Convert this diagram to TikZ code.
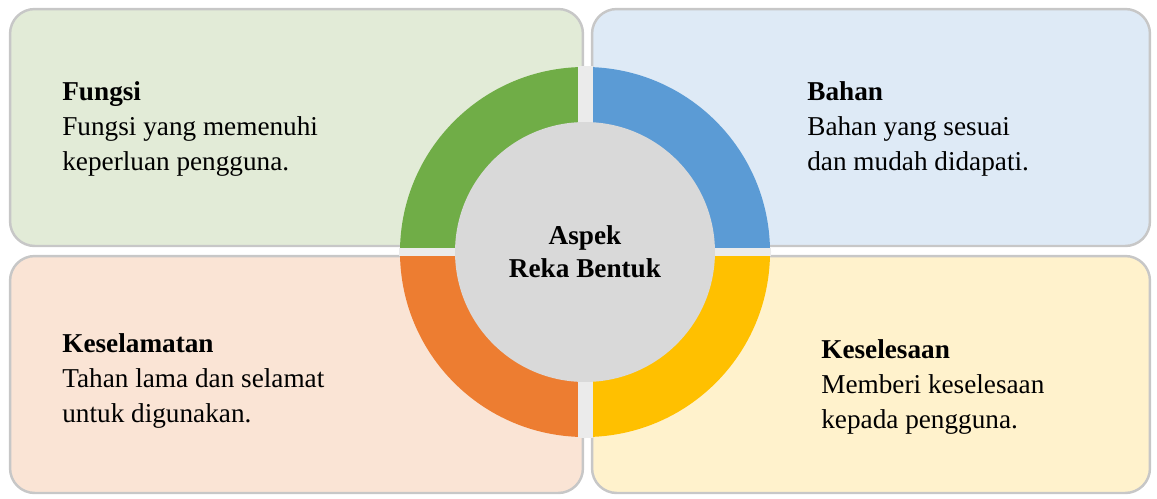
\documentclass[tikz,border=0pt]{standalone}
\usepackage{fontspec}
\setmainfont{Liberation Serif}
\usetikzlibrary{positioning, calc}
\definecolor{ringgreen}{RGB}{112, 173, 71}
\definecolor{ringblue}{RGB}{91, 155, 213}
\definecolor{ringorange}{RGB}{237, 125, 49}
\definecolor{ringyellow}{RGB}{255, 192, 0}
\definecolor{boxgreen}{RGB}{226, 235, 215}
\definecolor{boxblue}{RGB}{222, 234, 246}
\definecolor{boxorange}{RGB}{250, 228, 213}
\definecolor{boxyellow}{RGB}{255, 242, 204}
\definecolor{hubgray}{RGB}{217, 217, 217}
\tikzset{
  aspectbox/.style={draw=black!22, line width=1.4pt, rounded corners=14pt,
    minimum width=#1, minimum height=4.74cm, inner sep=0pt},
  aspecttext/.style={anchor=west, align=left, inner sep=0pt,
    font=\fontsize{15.5}{20}\selectfont},
}
\begin{document}
\begin{tikzpicture}[x=0.02cm, y=-0.02cm]
    \useasboundingbox (0,0) rectangle (1157,498);
    % four aspect boxes
    \node[aspectbox=11.46cm, fill=boxgreen]  (fungsi) at (296.5,127.5) {};
    \node[aspectbox=11.16cm, fill=boxblue]   (bahan)  at (871,127.5) {};
    \node[aspectbox=11.46cm, fill=boxorange] (selamat) at (296.5,374.5) {};
    \node[aspectbox=11.16cm, fill=boxyellow] (selesa) at (871,374.5) {};

    % ring round the hub (y runs downwards, so 270 is up)
    \coordinate (hub) at (585,252);
    \fill[ringblue]   ($(hub)+(270:185)$) arc (270:360:185) -- ($(hub)+(0:129)$) arc (360:270:129) -- cycle;
    \fill[ringgreen]  ($(hub)+(180:185)$) arc (180:270:185) -- ($(hub)+(270:129)$) arc (270:180:129) -- cycle;
    \fill[ringorange] ($(hub)+(90:185)$) arc (90:180:185) -- ($(hub)+(180:129)$) arc (180:90:129) -- cycle;
    \fill[ringyellow] ($(hub)+(0:185)$) arc (0:90:185) -- ($(hub)+(90:129)$) arc (90:0:129) -- cycle;
    \begin{scope}
      \clip (hub) circle (186);
      \fill[black!8] ($(hub)+(-7.5,-190)$) rectangle ($(hub)+(7.5,190)$);
      \fill[black!8] ($(hub)+(-190,-4)$) rectangle ($(hub)+(190,4)$);
    \end{scope}
    \node[circle, fill=hubgray, minimum size=5.2cm, inner sep=0pt,
          align=center, font=\bfseries\fontsize{15.5}{19}\selectfont] (aspek) at (hub)
      {Aspek\\Reka Bentuk};

    % texts
    \node[aspecttext] (tfungsi) at (62,129) {\textbf{Fungsi}\\Fungsi yang memenuhi\\keperluan pengguna.};
    \node[aspecttext] (tbahan) at (807,129) {\textbf{Bahan}\\Bahan yang sesuai\\dan mudah didapati.};
    \node[aspecttext] (tselamat) at (62,381) {\textbf{Keselamatan}\\Tahan lama dan selamat\\untuk digunakan.};
    \node[aspecttext] (tselesa) at (821,387) {\textbf{Keselesaan}\\Memberi keselesaan\\kepada pengguna.};
\end{tikzpicture}
\end{document}
